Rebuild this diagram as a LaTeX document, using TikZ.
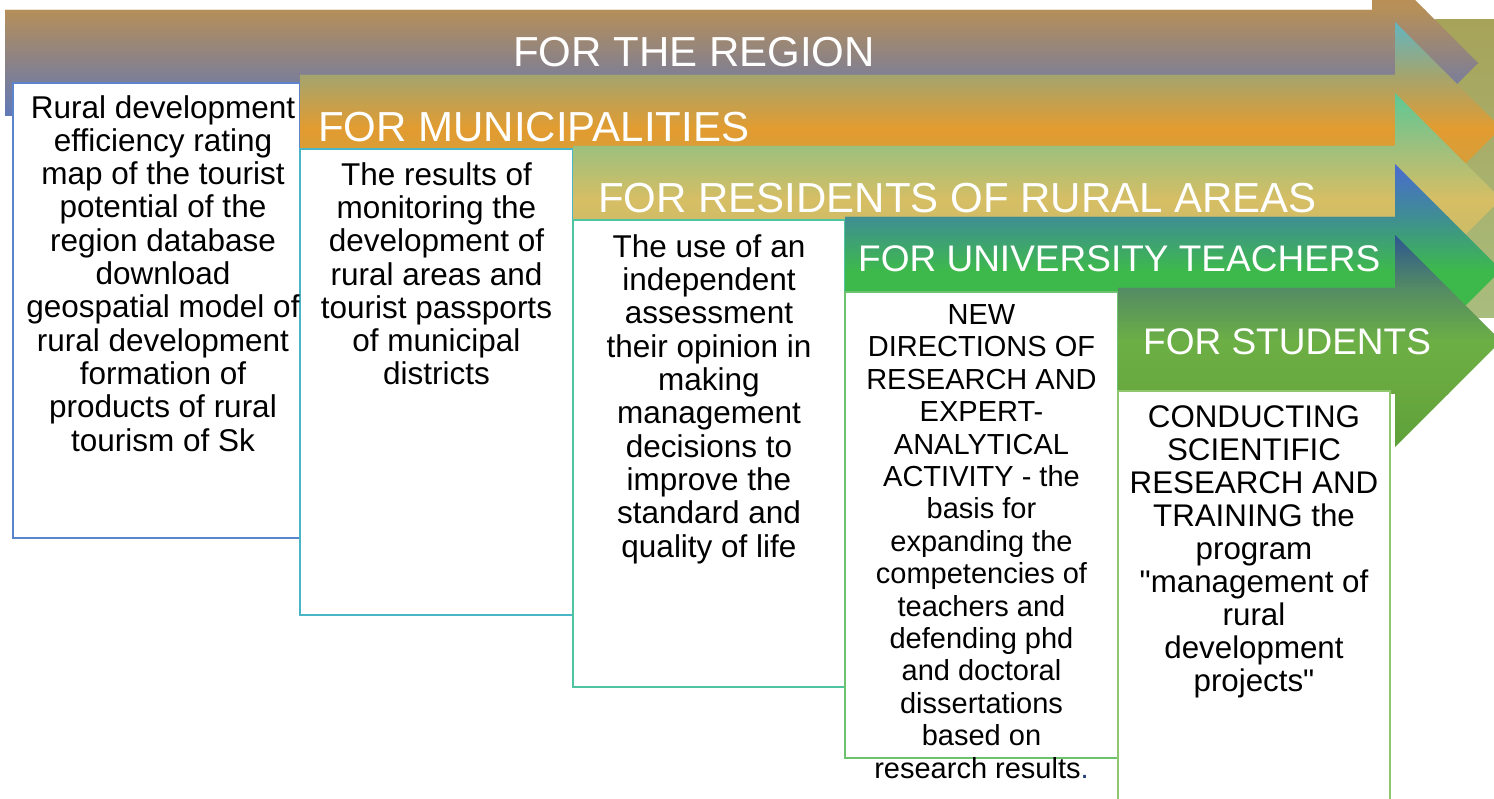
\documentclass[tikz,border=0pt]{standalone}
\usepackage{fontspec}
\setmainfont{Liberation Sans}[Ligatures=TeXOff]
% arrow colours (c0 head top, c1 shaft top, c2 shaft middle, c3 shaft bottom, c4 head bottom)
\definecolor{aA0}{HTML}{C8924A}\definecolor{aA1}{HTML}{B58F5A}\definecolor{aA2}{HTML}{8A8288}\definecolor{aA3}{HTML}{6079B8}\definecolor{aA4}{HTML}{5A78BC}
\definecolor{aB0}{HTML}{62B6C2}\definecolor{aB1}{HTML}{A4A46E}\definecolor{aB2}{HTML}{E29C30}\definecolor{aB3}{HTML}{D09E40}\definecolor{aB4}{HTML}{A8A868}
\definecolor{aC0}{HTML}{5CC896}\definecolor{aC1}{HTML}{9CC07E}\definecolor{aC2}{HTML}{D6BE64}\definecolor{aC3}{HTML}{C8BA6A}\definecolor{aC4}{HTML}{B0B870}
\definecolor{aD0}{HTML}{4A6AD0}\definecolor{aD1}{HTML}{3F8E93}\definecolor{aD2}{HTML}{3DB94C}\definecolor{aD3}{HTML}{3DB94C}\definecolor{aD4}{HTML}{3DB94C}
\definecolor{aE0}{HTML}{2C5590}\definecolor{aE1}{HTML}{548B64}\definecolor{aE2}{HTML}{6CAF44}\definecolor{aE3}{HTML}{68A83F}\definecolor{aE4}{HTML}{5EA03A}
\definecolor{bgtop}{HTML}{A7A35A}\definecolor{bgbot}{HTML}{A9BD7E}
\definecolor{bA}{HTML}{5B84CC}\definecolor{bB}{HTML}{4BB5C8}\definecolor{bC}{HTML}{4EC4A0}\definecolor{bD}{HTML}{6DC270}\definecolor{bE}{HTML}{90C870}
\definecolor{navyc}{HTML}{1F3A7A}
% #1 x start, #2 y top of shaft, #3 x end of shaft, #4 colour prefix
\newcommand\myarrow[4]{%
  \begin{scope}
    \clip (#1,#2) -- (#3,#2) -- (#3,#2-53) -- (#3+106,#2+53) -- (#3,#2+159)
          -- (#3,#2+106) -- (#1,#2+106) -- cycle;
    \shade[top color=#40,bottom color=#41] (#1-1,#2-54) rectangle (#3+107,#2+0.6);
    \shade[top color=#41,bottom color=#42] (#1-1,#2) rectangle (#3+107,#2+53.6);
    \shade[top color=#42,bottom color=#43] (#1-1,#2+53) rectangle (#3+107,#2+106.6);
    \shade[top color=#43,bottom color=#44] (#1-1,#2+106) rectangle (#3+107,#2+160);
  \end{scope}}
\begin{document}
\begin{tikzpicture}[x=1pt,y=-1pt,
  lab/.style={text=white, anchor=base west, inner sep=0pt},
  labbig/.style={lab, font=\fontsize{42}{42}\selectfont},
  labsmall/.style={lab, font=\fontsize{37}{37}\selectfont},
  body/.style={anchor=base, align=center, inner sep=0pt, text=black,
    font=\fontsize{31.5}{33.3}\selectfont},
  bodysmall/.style={body, font=\fontsize{29}{32.4}\selectfont},
  box/.style={fill=white, line width=1.5pt}]
\useasboundingbox (0,0) rectangle (1494,799);
\fill[white] (0,0) rectangle (1494,799);
\clip (0,0) rectangle (1494,799);
% olive panel behind the arrow heads
\shade[top color=bgtop, bottom color=bgbot] (1435,20) rectangle (1500,318);
% arrow 1 and box 1
\myarrow{5}{10}{1372}{aA}
\draw[box, draw=bA] (13,83) rectangle (300,538);
% arrow 2 and box 2
\myarrow{300}{75}{1395}{aB}
\draw[box, draw=bB] (300,149) rectangle (573,615);
% arrow 3 and box 3
\myarrow{573}{146}{1395}{aC}
\draw[box, draw=bC] (573,220) rectangle (845,687);
% arrow 4 and box 4
\myarrow{845}{217}{1395}{aD}
\draw[box, draw=bD] (845,292) rectangle (1118,758);
% arrow 5 and box 5
\myarrow{1118}{288}{1395}{aE}
\draw[box, draw=bE] (1118,391) rectangle (1390,820);
% arrow labels
\node[labbig]   (l1) at (513,67)  {FOR THE REGION};
\node[labbig]   (l2) at (318,142) {FOR MUNICIPALITIES};
\node[labbig]   (l3) at (598,213) {FOR RESIDENTS OF RURAL AREAS};
\node[labsmall] (l4) at (858,272) {FOR UNIVERSITY TEACHERS};
\node[labsmall] (l5) at (1143,355) {FOR STUDENTS};
% box texts (anchor base = baseline of the last line)
\node[body] (t1) at (163,451) {Rural development\\efficiency rating\\map of the tourist\\potential of the\\region database\\download\\geospatial model of\\rural development\\formation of\\products of rural\\tourism of Sk};
\node[body] (t2) at (436.5,385) {The results of\\monitoring the\\development of\\rural areas and\\tourist passports\\of municipal\\districts};
\node[body] (t3) at (709,557) {The use of an\\independent\\assessment\\their opinion in\\making\\management\\decisions to\\improve the\\standard and\\quality of life};
\node[bodysmall] (t4) at (981.5,778) {NEW\\DIRECTIONS OF\\RESEARCH AND\\EXPERT-\\ANALYTICAL\\ACTIVITY - the\\basis for\\expanding the\\competencies of\\teachers and\\defending phd\\and doctoral\\dissertations\\based on\\research results\textcolor{navyc}{.}};
\node[body, font=\fontsize{31.3}{33}\selectfont] (t5) at (1254,691) {CONDUCTING\\SCIENTIFIC\\RESEARCH AND\\TRAINING the\\program\\"management of\\rural\\development\\projects"};
\end{tikzpicture}
\end{document}
